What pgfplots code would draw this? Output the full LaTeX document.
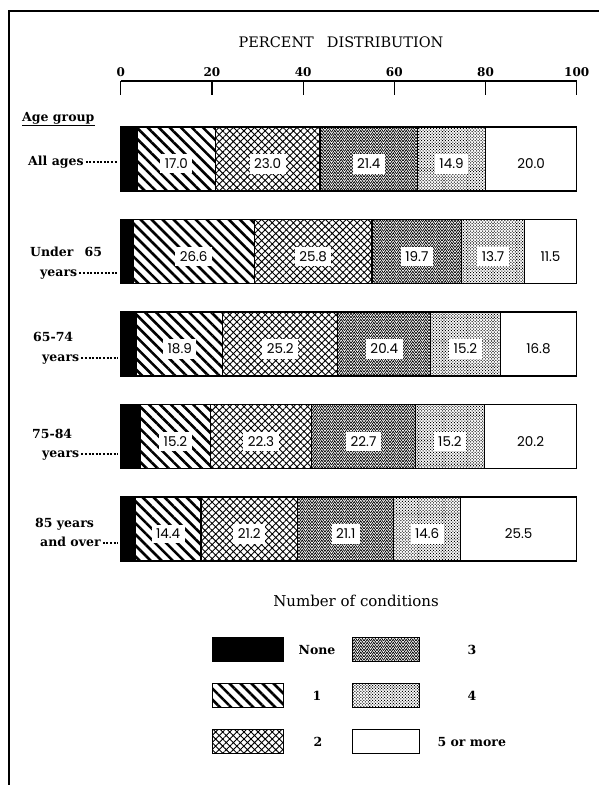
\documentclass[border=0pt]{standalone}
\usepackage{fontspec}
\setmainfont{DejaVu Serif}
\newfontfamily\numfont{Poppins}
\usepackage{pgfplots}
\pgfplotsset{compat=1.18}
\usetikzlibrary{patterns,patterns.meta}

\pgfdeclarepattern{
  name=zigzag,
  type=uncolored,
  bottom left={\pgfpoint{-1pt}{-1pt}},
  top right={\pgfpoint{8pt}{7pt}},
  tile size={\pgfpoint{6.5pt}{3.2pt}},
  code={
    \pgfsetlinewidth{0.75pt}
    \pgfpathmoveto{\pgfpoint{0pt}{0pt}}
    \pgfpathlineto{\pgfpoint{3.25pt}{5pt}}
    \pgfpathlineto{\pgfpoint{6.5pt}{0pt}}
    \pgfusepath{stroke}
  }
}

\tikzset{
  p1/.style={pattern={Lines[angle=-45,distance=7.8pt,line width=2.6pt]}},
  p2/.style={pattern={Hatch[angle=45,distance=5pt,line width=0.9pt]}},
  p3/.style={pattern=zigzag},
  p4/.style={pattern={Dots[angle=45,distance=2.1pt,radius=0.72pt]}},
}

\pgfplotsset{
  vlab/.style={
    nodes near coords={\pgfmathprintnumber[fixed,fixed zerofill,precision=1]{\pgfplotspointmeta}},
    point meta=rawx,
    nodes near coords style={anchor=center, yshift=-5pt,
      fill=white, text=black, inner xsep=4.5pt, inner ysep=4.5pt, font=\numfont\fontsize{13.5}{15}\selectfont},
  },
}

\begin{document}
\begin{tikzpicture}[x=1pt,y=1pt]
\begin{axis}[
  at={(120.7pt,200pt)}, anchor=south west,
  x=4.56pt, y=1pt,
  xmin=0, xmax=100, ymin=200, ymax=704,
  xbar stacked, bar width=64pt,
  axis x line*=top, axis y line=none,
  x axis line style={-, line width=1.2pt},
  xtick={0,20,40,60,80,100},
  tick align=inside, major tick length=14pt,
  every tick/.style={black, line width=1.2pt},
  xticklabel style={font=\bfseries\fontsize{12}{14}\selectfont, yshift=1pt},
  /pgf/number format/assume math mode=true,
  clip=false,
  every axis plot/.append style={draw=black, line width=1.1pt},
]
\addplot[fill=black] coordinates {(3.7,626) (2.7,533.5) (3.5,441) (4.4,348.5) (3.2,256)};
\addplot[p1, vlab] coordinates {(17.0,626) (26.6,533.5) (18.9,441) (15.2,348.5) (14.4,256)};
\addplot[p2, vlab] coordinates {(23.0,626) (25.8,533.5) (25.2,441) (22.3,348.5) (21.2,256)};
\addplot[p3, vlab] coordinates {(21.4,626) (19.7,533.5) (20.4,441) (22.7,348.5) (21.1,256)};
\addplot[p4, vlab] coordinates {(14.9,626) (13.7,533.5) (15.2,441) (15.2,348.5) (14.6,256)};
\addplot[fill=white, vlab] coordinates {(20.0,626) (11.5,533.5) (16.8,441) (20.2,348.5) (25.5,256)};
\end{axis}

% frame
\draw[line width=1.5pt] (9,0) -- (9,774) -- (599,774);

% title
\node[font=\fontsize{14.5}{16}\selectfont] at (341,743) {PERCENT\hspace{0.9em}DISTRIBUTION};

% left labels
\tikzset{lab/.style={font=\bfseries\fontsize{12.5}{14}\selectfont, anchor=base west, inner sep=0pt},
         lead/.style={line width=2pt, dash pattern=on 2pt off 1.6pt}}
\node[lab] (ag) at (22,663) {Age group};
\draw[line width=0.8pt] (22,660) -- (ag.east |- 0,660);

\node[lab] (a1) at (28,619) {All ages};
\draw[lead] ([xshift=2pt]a1.base east) ++(0,3.5) -- (118,622.5);

\node[lab] at (30,528) {Under\hspace{0.9em}65};
\node[lab] (a2) at (40,508) {years};
\draw[lead] ([xshift=2pt]a2.base east) ++(0,3.5) -- (118,511.5);

\node[lab] at (33,443) {65-74};
\node[lab] (a3) at (42,423) {years};
\draw[lead] ([xshift=2pt]a3.base east) ++(0,3.5) -- (118,426.5);

\node[lab] at (32,346) {75-84};
\node[lab] (a4) at (42,327) {years};
\draw[lead] ([xshift=2pt]a4.base east) ++(0,3.5) -- (118,330.5);

\node[lab] at (35,257) {85 years};
\node[lab] (a5) at (40,238) {and over};
\draw[lead] ([xshift=2pt]a5.base east) ++(0,3.5) -- (118,241.5);

% legend
\node[font=\fontsize{15}{17}\selectfont] at (356,184) {Number of conditions};
\draw[line width=1pt, fill=black] (212,123) rectangle (283,147);
\draw[line width=1pt, p1] (212,77) rectangle (283,101);
\draw[line width=1pt, p2] (212,31) rectangle (283,55);
\draw[line width=1pt, p3] (352,123) rectangle (419,147);
\draw[line width=1pt, p4] (352,77) rectangle (419,101);
\draw[line width=1pt, fill=white] (352,31) rectangle (419,55);
\tikzset{ll/.style={font=\bfseries\fontsize{12.5}{14}\selectfont}}
\node[ll] at (317,135) {None};
\node[ll] at (317,89) {1};
\node[ll] at (318,43) {2};
\node[ll] at (472,135) {3};
\node[ll] at (472,89) {4};
\node[ll, anchor=west] at (434,43) {5 or more};

\pgfresetboundingbox
\useasboundingbox (0,0) rectangle (599,785);
\end{tikzpicture}
\end{document}
